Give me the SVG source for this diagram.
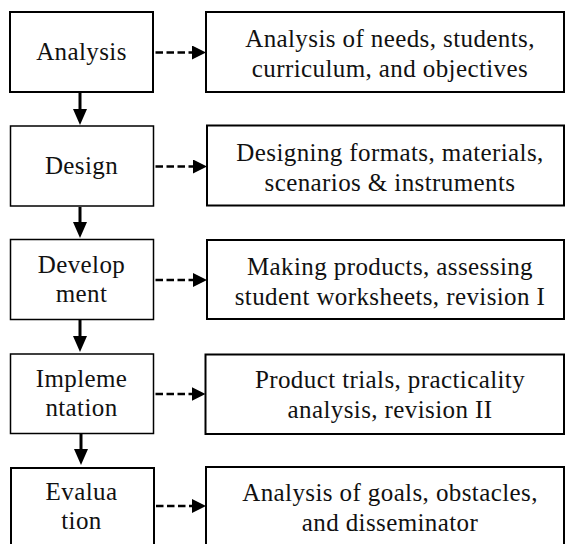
<svg xmlns="http://www.w3.org/2000/svg" width="567" height="544" viewBox="0 0 567 544">
  <style>
    .box { fill: #ffffff; stroke: #000000; stroke-width: 2; }
    .thin { stroke-width: 1.5; }
    .label { font-family: "Liberation Serif", "Times New Roman", serif; font-size: 25px; letter-spacing: 0.4px; fill: #111111; text-anchor: middle; }
    .flow { stroke: #000000; stroke-width: 3; fill: none; }
    .link { stroke: #000000; stroke-width: 2.5; stroke-dasharray: 7.5 3.5; fill: none; }
  </style>
  <defs>
    <marker id="headDown" markerUnits="userSpaceOnUse" viewBox="0 0 16 14" markerWidth="16" markerHeight="14" refX="8" refY="7" orient="auto">
      <path d="M0,0 L16,7 L0,14 Z" fill="#000000"/>
    </marker>
    <marker id="headSide" markerUnits="userSpaceOnUse" viewBox="0 0 14 14" markerWidth="14" markerHeight="14" refX="4" refY="7" orient="auto">
      <path d="M0,0 L14,7 L0,14 Z" fill="#000000"/>
    </marker>
  </defs>
  <rect width="567" height="544" fill="#ffffff"/>

  <!-- stage boxes -->
  <g id="analysis">
    <rect class="box" x="10" y="12" width="143" height="80"/>
    <text class="label" x="81.5" y="60">Analysis</text>
  </g>
  <g id="design">
    <rect class="box thin" x="10.5" y="126" width="143" height="80"/>
    <text class="label" x="81.5" y="174">Design</text>
  </g>
  <g id="development">
    <rect class="box thin" x="10.5" y="239.5" width="143" height="80"/>
    <text class="label" x="81.5" y="273">Develop</text>
    <text class="label" x="81.5" y="302">ment</text>
  </g>
  <g id="implementation">
    <rect class="box thin" x="10.5" y="354" width="143" height="79.5"/>
    <text class="label" x="81.5" y="387">Impleme</text>
    <text class="label" x="81.5" y="416">ntation</text>
  </g>
  <g id="evaluation">
    <rect class="box" x="11" y="468" width="143" height="80"/>
    <text class="label" x="81.5" y="500">Evalua</text>
    <text class="label" x="81.5" y="529">tion</text>
  </g>

  <!-- description boxes -->
  <g id="analysis-desc">
    <rect class="box" x="206" y="12" width="358" height="80"/>
    <text class="label" x="390" y="47">Analysis of needs, students,</text>
    <text class="label" x="390" y="77">curriculum, and objectives</text>
  </g>
  <g id="design-desc">
    <rect class="box" x="207" y="125.5" width="357" height="80"/>
    <text class="label" x="390" y="161">Designing formats, materials,</text>
    <text class="label" x="390" y="191">scenarios &amp; instruments</text>
  </g>
  <g id="development-desc">
    <rect class="box" x="207" y="240" width="357" height="79"/>
    <text class="label" x="390" y="275">Making products, assessing</text>
    <text class="label" x="390" y="305">student worksheets, revision I</text>
  </g>
  <g id="implementation-desc">
    <rect class="box" x="205.5" y="354.5" width="358.5" height="79.5"/>
    <text class="label" x="390" y="388">Product trials, practicality</text>
    <text class="label" x="390" y="418">analysis, revision II</text>
  </g>
  <g id="evaluation-desc">
    <rect class="box" x="206" y="467" width="358" height="82"/>
    <text class="label" x="390" y="501">Analysis of goals, obstacles,</text>
    <text class="label" x="390" y="531">and disseminator</text>
  </g>

  <!-- connectors -->
  <g id="connectors">
    <line class="flow" x1="80" y1="93" x2="80" y2="117" marker-end="url(#headDown)"/>
    <line class="flow" x1="80" y1="207" x2="80" y2="230" marker-end="url(#headDown)"/>
    <line class="flow" x1="80" y1="320" x2="80" y2="344" marker-end="url(#headDown)"/>
    <line class="flow" x1="81" y1="434" x2="81" y2="457" marker-end="url(#headDown)"/>

    <line class="link" x1="155.5" y1="52.5" x2="196" y2="52.5" marker-end="url(#headSide)"/>
    <line class="link" x1="155.5" y1="166.5" x2="197" y2="166.5" marker-end="url(#headSide)"/>
    <line class="link" x1="155.5" y1="280" x2="197" y2="280" marker-end="url(#headSide)"/>
    <line class="link" x1="155.5" y1="394" x2="195.5" y2="394" marker-end="url(#headSide)"/>
    <line class="link" x1="156" y1="506" x2="196" y2="506" marker-end="url(#headSide)"/>
  </g>
</svg>
